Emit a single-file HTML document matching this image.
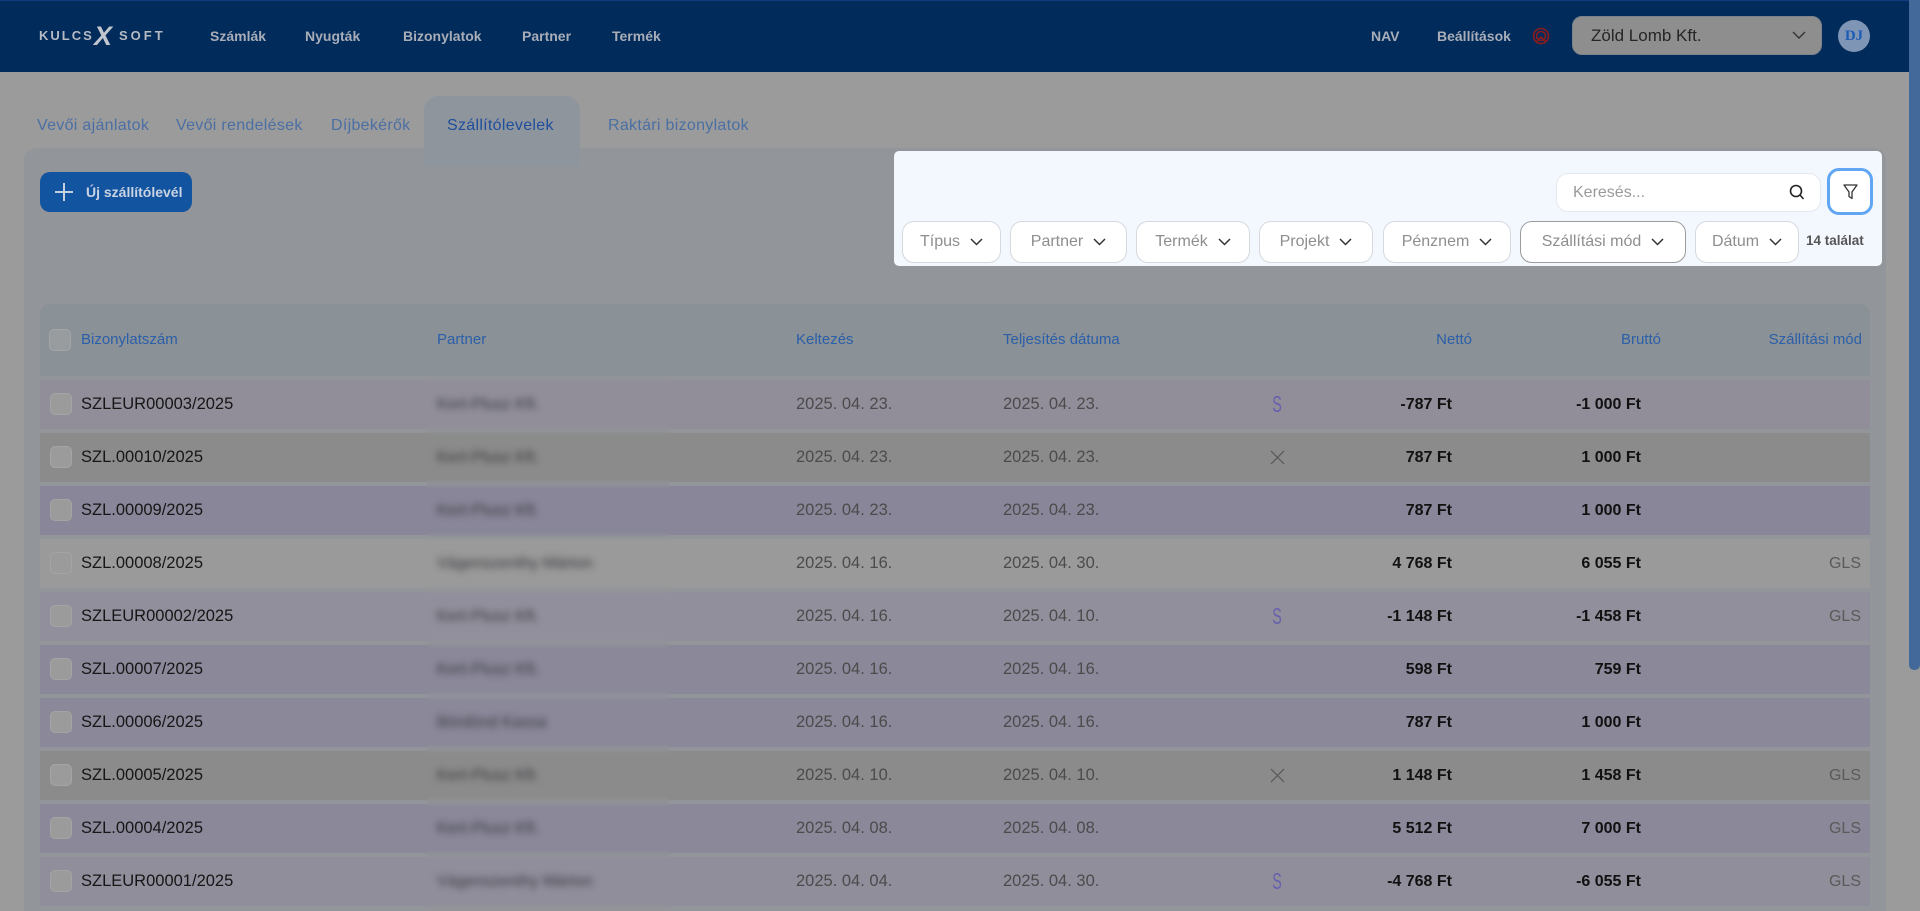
<!DOCTYPE html>
<html><head><meta charset="utf-8">
<style>
*{box-sizing:border-box;margin:0;padding:0}
html,body{width:1920px;height:911px;overflow:hidden;background:#9b9b9b;font-family:"Liberation Sans",sans-serif;position:relative}
.a{position:absolute;white-space:nowrap}
.nav{left:0;top:0;width:1920px;height:72px;background:#002b5b;border-top:1px solid #0f3d7f}
.ni{top:0;height:72px;line-height:72px;font-size:14px;font-weight:bold;color:#a8adb8}
.tab{top:113px;height:26px;line-height:26px;font-size:16px;color:#4b6fa3;letter-spacing:0.3px}
.chip{top:221px;height:42px;background:#fff;border:1px solid #d6d9dd;border-radius:12px;display:flex;align-items:center;justify-content:center;gap:10px;font-size:16px;color:#8e8e8e}
.row{left:40px;width:1830px;height:49px}
.row>.a{top:0;height:49px;line-height:49px}
.cb{position:absolute;left:10px;top:13px;width:22px;height:22px;background:#9b9b9b;border:1px solid #a4a4a4;border-radius:5px}
.id{left:41px;font-size:16.5px;color:#161616}
.pt{left:397px;font-size:16px;color:#38383e;filter:blur(3px)}
.d1{left:756px;font-size:16.5px;color:#4b4b4b}
.d2{left:963px;font-size:16.5px;color:#4b4b4b}
.n{right:418px;font-size:16px;font-weight:bold;color:#111}
.b{right:229px;font-size:16px;font-weight:bold;color:#111}
.g{right:9px;font-size:16px;color:#5a5a5a}
.s{left:1229px;width:16px;text-align:center;font-size:23px;color:#6561ad;transform:scaleX(0.62)}
.x{left:1230px;top:17px !important;height:15px !important}
.h{top:328px;height:24px;line-height:24px;font-size:15px;color:#2b5fa8}
.lg{top:0;height:72px;line-height:72px;color:#b6bac2;font-size:13px;font-weight:bold;letter-spacing:2px}
</style></head><body>

<!-- NAV -->
<div class="a nav"></div>
<div class="a lg" style="left:39px">KULCS</div>
<div class="a lg" style="left:94px;font-size:27px;font-style:italic;letter-spacing:0;color:#c2c6ce">X</div>
<div class="a lg" style="left:119px;letter-spacing:3px">SOFT</div>
<div class="a ni" style="left:210px">Számlák</div>
<div class="a ni" style="left:305px">Nyugták</div>
<div class="a ni" style="left:403px">Bizonylatok</div>
<div class="a ni" style="left:522px">Partner</div>
<div class="a ni" style="left:612px">Termék</div>
<div class="a ni" style="left:1371px">NAV</div>
<div class="a ni" style="left:1437px">Beállítások</div>
<svg class="a" style="left:1532px;top:27px" width="18" height="18" viewBox="0 0 18 18" fill="none" stroke="#8c1c1c" stroke-width="1.6"><circle cx="9" cy="9" r="7.5"/><circle cx="9" cy="9" r="4.5"/><path d="M4 15 L9 10 L14 15"/></svg>
<div class="a" style="left:1572px;top:16px;width:250px;height:39px;background:#8e8e8e;border:1px solid #7d838c;border-radius:10px;line-height:37px;padding-left:18px;font-size:17px;color:#252525">Zöld Lomb Kft.</div>
<svg class="a" style="left:1792px;top:31px" width="14" height="9" viewBox="0 0 14 9" fill="none" stroke="#333" stroke-width="1.4"><path d="M1 1 L7 7 L13 1"/></svg>
<div class="a" style="left:1838px;top:20px;width:32px;height:32px;border-radius:50%;background:#7f95b5;text-align:center;line-height:32px;font-family:'Liberation Serif',serif;font-weight:bold;font-size:15px;color:#1d5bb5">DJ</div>

<!-- tabs & card -->
<div class="a" style="left:24px;top:148px;width:1862px;height:763px;background:#929599;border-radius:12px 12px 0 0"></div>
<div class="a" style="left:424px;top:96px;width:156px;height:70px;background:#8f959c;border-radius:14px 14px 0 0"></div>
<div class="a tab" style="left:37px">Vevői ajánlatok</div>
<div class="a tab" style="left:176px">Vevői rendelések</div>
<div class="a tab" style="left:331px">Díjbekérők</div>
<div class="a tab" style="left:447px;color:#1e4e9c">Szállítólevelek</div>
<div class="a tab" style="left:608px">Raktári bizonylatok</div>

<!-- new button -->
<div class="a" style="left:40px;top:172px;width:152px;height:40px;background:#1354a0;border-radius:10px"></div>
<svg class="a" style="left:54px;top:182px" width="20" height="20" viewBox="0 0 20 20" stroke="#c5d0df" stroke-width="2"><path d="M10 1 V19 M1 10 H19"/></svg>
<div class="a" style="left:86px;top:172px;height:40px;line-height:40px;font-size:14px;font-weight:bold;color:#c9d3e2">Új szállítólevél</div>

<!-- filter panel -->
<div class="a" style="left:894px;top:151px;width:988px;height:115px;background:#f3f8fe;border-radius:5px"></div>
<div class="a" style="left:1556px;top:173px;width:265px;height:39px;background:#fff;border:1px solid #e4e9ef;border-radius:12px;line-height:37px;padding-left:16px;font-size:16px;color:#9a9a9a">Keresés...</div>
<svg class="a" style="left:1789px;top:184px" width="16" height="17" viewBox="0 0 16 17" fill="none" stroke="#222" stroke-width="1.6"><circle cx="7" cy="7" r="5.5"/><path d="M11 11 L14.5 15"/></svg>
<div class="a" style="left:1827px;top:168px;width:46px;height:47px;background:#fff;border:3px solid #60a6f2;border-radius:12px"></div>
<svg class="a" style="left:1843px;top:184px" width="15" height="16" viewBox="0 0 15 16" fill="none" stroke="#333" stroke-width="1.3" stroke-linejoin="round"><path d="M1 1 H14 L9 8 V14.5 L6 12.5 V8 Z"/></svg>

<div class="a chip" style="left:902px;width:99px">Típus<svg width="13" height="8" viewBox="0 0 13 8" fill="none" stroke="#333" stroke-width="1.5"><path d="M1 1 L6.5 6.5 L12 1"/></svg></div>
<div class="a chip" style="left:1010px;width:117px">Partner<svg width="13" height="8" viewBox="0 0 13 8" fill="none" stroke="#333" stroke-width="1.5"><path d="M1 1 L6.5 6.5 L12 1"/></svg></div>
<div class="a chip" style="left:1136px;width:114px">Termék<svg width="13" height="8" viewBox="0 0 13 8" fill="none" stroke="#333" stroke-width="1.5"><path d="M1 1 L6.5 6.5 L12 1"/></svg></div>
<div class="a chip" style="left:1259px;width:114px">Projekt<svg width="13" height="8" viewBox="0 0 13 8" fill="none" stroke="#333" stroke-width="1.5"><path d="M1 1 L6.5 6.5 L12 1"/></svg></div>
<div class="a chip" style="left:1383px;width:128px">Pénznem<svg width="13" height="8" viewBox="0 0 13 8" fill="none" stroke="#333" stroke-width="1.5"><path d="M1 1 L6.5 6.5 L12 1"/></svg></div>
<div class="a chip" style="left:1520px;width:166px;border-color:#9c9c9c">Szállítási mód<svg width="13" height="8" viewBox="0 0 13 8" fill="none" stroke="#333" stroke-width="1.5"><path d="M1 1 L6.5 6.5 L12 1"/></svg></div>
<div class="a chip" style="left:1695px;width:104px">Dátum<svg width="13" height="8" viewBox="0 0 13 8" fill="none" stroke="#333" stroke-width="1.5"><path d="M1 1 L6.5 6.5 L12 1"/></svg></div>
<div class="a" style="left:1806px;top:231px;height:20px;line-height:20px;font-size:13.5px;font-weight:bold;color:#555">14 találat</div>

<!-- table header -->
<div class="a" style="left:40px;top:304px;width:1830px;height:72px;background:#8a9197;border-radius:10px 10px 0 0"></div>
<div class="a" style="left:49px;top:329px;width:22px;height:22px;background:#999c9f;border:1px solid #a2a5a8;border-radius:5px"></div>
<div class="a h" style="left:81px">Bizonylatszám</div>
<div class="a h" style="left:437px">Partner</div>
<div class="a h" style="left:796px">Keltezés</div>
<div class="a h" style="left:1003px">Teljesítés dátuma</div>
<div class="a h" style="right:448px">Nettó</div>
<div class="a h" style="right:259px">Bruttó</div>
<div class="a h" style="right:58px">Szállítási mód</div>

<!-- rows -->
<div class="a row" style="top:380px;background:#918e9a"><div class="cb"></div>
<div class="a id">SZLEUR00003/2025</div><div class="a pt">Kert-Plusz Kft.</div><div class="a d1">2025. 04. 23.</div><div class="a d2">2025. 04. 23.</div><div class="a s">S</div><div class="a n">-787 Ft</div><div class="a b">-1 000 Ft</div></div>

<div class="a row" style="top:433px;background:#8b8b8b"><div class="cb"></div>
<div class="a id">SZL.00010/2025</div><div class="a pt">Kert-Plusz Kft.</div><div class="a d1">2025. 04. 23.</div><div class="a d2">2025. 04. 23.</div><svg class="a x" width="15" height="15" viewBox="0 0 15 15" stroke="#555" stroke-width="1.2"><path d="M1 1 L14 14 M14 1 L1 14"/></svg><div class="a n">787 Ft</div><div class="a b">1 000 Ft</div></div>

<div class="a row" style="top:486px;background:#888698"><div class="cb"></div>
<div class="a id">SZL.00009/2025</div><div class="a pt">Kert-Plusz Kft.</div><div class="a d1">2025. 04. 23.</div><div class="a d2">2025. 04. 23.</div><div class="a n">787 Ft</div><div class="a b">1 000 Ft</div></div>

<div class="a row" style="top:539px;background:#9a9a9a"><div class="cb"></div>
<div class="a id">SZL.00008/2025</div><div class="a pt">Vágenszenthy Márton</div><div class="a d1">2025. 04. 16.</div><div class="a d2">2025. 04. 30.</div><div class="a n">4 768 Ft</div><div class="a b">6 055 Ft</div><div class="a g">GLS</div></div>

<div class="a row" style="top:592px;background:#918f9b"><div class="cb"></div>
<div class="a id">SZLEUR00002/2025</div><div class="a pt">Kert-Plusz Kft.</div><div class="a d1">2025. 04. 16.</div><div class="a d2">2025. 04. 10.</div><div class="a s">S</div><div class="a n">-1 148 Ft</div><div class="a b">-1 458 Ft</div><div class="a g">GLS</div></div>

<div class="a row" style="top:645px;background:#8a8899"><div class="cb"></div>
<div class="a id">SZL.00007/2025</div><div class="a pt">Kert-Plusz Kft.</div><div class="a d1">2025. 04. 16.</div><div class="a d2">2025. 04. 16.</div><div class="a n">598 Ft</div><div class="a b">759 Ft</div></div>

<div class="a row" style="top:698px;background:#8a8899"><div class="cb"></div>
<div class="a id">SZL.00006/2025</div><div class="a pt">Bördönd Kassa</div><div class="a d1">2025. 04. 16.</div><div class="a d2">2025. 04. 16.</div><div class="a n">787 Ft</div><div class="a b">1 000 Ft</div></div>

<div class="a row" style="top:751px;background:#8b8b8b"><div class="cb"></div>
<div class="a id">SZL.00005/2025</div><div class="a pt">Kert-Plusz Kft.</div><div class="a d1">2025. 04. 10.</div><div class="a d2">2025. 04. 10.</div><svg class="a x" width="15" height="15" viewBox="0 0 15 15" stroke="#555" stroke-width="1.2"><path d="M1 1 L14 14 M14 1 L1 14"/></svg><div class="a n">1 148 Ft</div><div class="a b">1 458 Ft</div><div class="a g">GLS</div></div>

<div class="a row" style="top:804px;background:#8a8899"><div class="cb"></div>
<div class="a id">SZL.00004/2025</div><div class="a pt">Kert-Plusz Kft.</div><div class="a d1">2025. 04. 08.</div><div class="a d2">2025. 04. 08.</div><div class="a n">5 512 Ft</div><div class="a b">7 000 Ft</div><div class="a g">GLS</div></div>

<div class="a row" style="top:857px;background:#908e9b"><div class="cb"></div>
<div class="a id">SZLEUR00001/2025</div><div class="a pt">Vágenszenthy Márton</div><div class="a d1">2025. 04. 04.</div><div class="a d2">2025. 04. 30.</div><div class="a s">S</div><div class="a n">-4 768 Ft</div><div class="a b">-6 055 Ft</div><div class="a g">GLS</div></div>

<!-- blurred partner band -->
<div class="a" style="left:426px;top:376px;width:244px;height:535px;backdrop-filter:blur(2px);-webkit-backdrop-filter:blur(2px)"></div>

<!-- scrollbar -->
<div class="a" style="left:1909px;top:0;width:11px;height:670px;background:#42699a;border-radius:0 0 5px 5px"></div>
</body></html>
